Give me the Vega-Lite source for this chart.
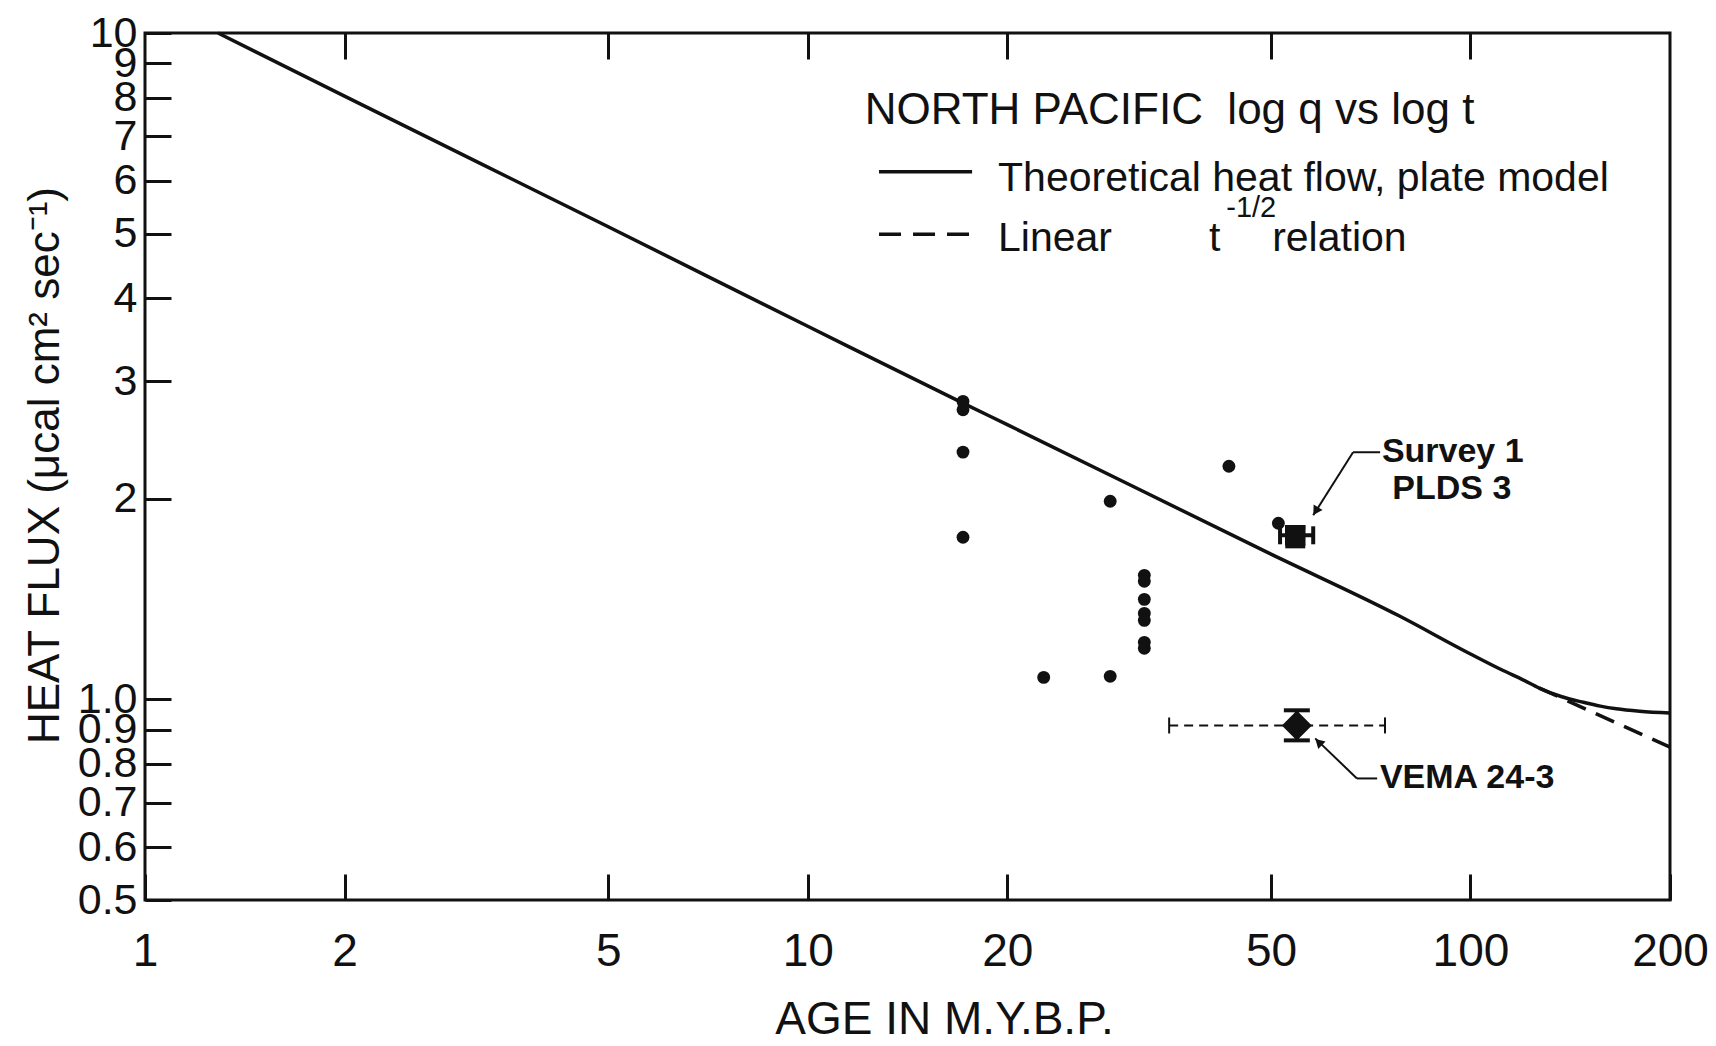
{
  "$schema": "https://vega.github.io/schema/vega-lite/v6.json",
  "width": 1525,
  "height": 867,
  "autosize": {"type": "none"},
  "padding": {"left": 145, "top": 33, "right": 46, "bottom": 146},
  "background": "#ffffff",
  "config": {
    "view": {"stroke": "#111111", "strokeWidth": 3},
    "font": "Liberation Sans",
    "axis": {"grid": false, "domain": false, "tickColor": "#111111", "tickWidth": 3, "labelColor": "#111111", "titleColor": "#111111", "labelFont": "Liberation Sans", "titleFont": "Liberation Sans"}
  },
  "datasets": {
    "plate": [
      {"t": 1.289, "q": 10.0}, {"t": 2, "q": 8.04}, {"t": 5, "q": 5.12}, {"t": 10, "q": 3.63},
      {"t": 17.15, "q": 2.783}, {"t": 20, "q": 2.584}, {"t": 50, "q": 1.652}, {"t": 78, "q": 1.335},
      {"t": 100, "q": 1.17}, {"t": 112, "q": 1.105}, {"t": 120, "q": 1.07}, {"t": 127, "q": 1.04},
      {"t": 137, "q": 1.01}, {"t": 148, "q": 0.99}, {"t": 157, "q": 0.977}, {"t": 166, "q": 0.968},
      {"t": 180, "q": 0.96}, {"t": 200, "q": 0.954}
    ],
    "linear": [
      {"t": 127, "q": 1.04}, {"t": 200, "q": 0.848}
    ],
    "obs": [
      {"t": 17.15, "q": 2.80}, {"t": 17.15, "q": 2.72}, {"t": 17.15, "q": 2.35}, {"t": 17.15, "q": 1.751},
      {"t": 28.6, "q": 1.983}, {"t": 32.2, "q": 1.535}, {"t": 32.2, "q": 1.504}, {"t": 32.2, "q": 1.413},
      {"t": 32.2, "q": 1.346}, {"t": 32.2, "q": 1.314}, {"t": 32.2, "q": 1.218}, {"t": 32.2, "q": 1.193},
      {"t": 22.7, "q": 1.079}, {"t": 28.6, "q": 1.083}, {"t": 43.2, "q": 2.238}, {"t": 51.3, "q": 1.838}
    ],
    "sites": [
      {"site": "Survey 1 PLDS 3", "t": 54.4, "q": 1.763},
      {"site": "VEMA 24-3", "t": 54.7, "q": 0.914}
    ],
    "segs": [
      {"kind": "key", "t": 12.81, "q": 6.19, "t2": 17.70, "q2": 6.19},
      {"kind": "keydash", "t": 12.81, "q": 4.99, "t2": 17.70, "q2": 4.99},
      {"kind": "bar", "t": 51.6, "q": 1.763, "t2": 57.9, "q2": 1.763},
      {"kind": "bar", "t": 54.4, "q": 1.697, "t2": 54.4, "q2": 1.813},
      {"kind": "bar", "t": 54.7, "q": 0.868, "t2": 54.7, "q2": 0.963},
      {"kind": "xerr", "t": 35.1, "q": 0.914, "t2": 74.3, "q2": 0.914},
      {"kind": "leader", "t": 66.5, "q": 2.349, "t2": 73.05, "q2": 2.349},
      {"kind": "leader", "t": 66.5, "q": 2.349, "t2": 57.9, "q2": 1.889},
      {"kind": "leader", "t": 67.4, "q": 0.761, "t2": 58.3, "q2": 0.874},
      {"kind": "leader", "t": 67.4, "q": 0.761, "t2": 72.3, "q2": 0.761}
    ],
    "caps": [
      {"kind": "hcap", "t": 54.4, "q": 1.813}, {"kind": "hcap", "t": 54.4, "q": 1.697},
      {"kind": "hcapv", "t": 54.7, "q": 0.963}, {"kind": "hcapv", "t": 54.7, "q": 0.868},
      {"kind": "vcap", "t": 51.6, "q": 1.763}, {"kind": "vcap", "t": 57.9, "q": 1.763},
      {"kind": "vcapd", "t": 35.1, "q": 0.914}, {"kind": "vcapd", "t": 74.3, "q": 0.914}
    ],
    "arrows": [
      {"name": "survey", "t": 58.4, "q": 1.917},
      {"name": "vema", "t": 59.0, "q": 0.863}
    ],
    "labels": [
      {"kind": "title", "label": "NORTH PACIFIC\u00a0 log q vs log t", "t": 12.19, "q": 7.31},
      {"kind": "key", "label": "Theoretical heat flow, plate model", "t": 19.37, "q": 5.80},
      {"kind": "key", "label": "Linear", "t": 19.37, "q": 4.713},
      {"kind": "key", "label": "t", "t": 40.3, "q": 4.713},
      {"kind": "key", "label": "relation", "t": 50.2, "q": 4.713},
      {"kind": "sup", "label": "-1/2", "t": 42.8, "q": 5.30},
      {"kind": "annot", "label": "Survey 1", "t": 73.5, "q": 2.349},
      {"kind": "annot", "label": "PLDS 3", "t": 76.2, "q": 2.067},
      {"kind": "annot", "label": "VEMA 24-3", "t": 73.0, "q": 0.761}
    ]
  },
  "encoding": {
    "x": {"field": "t", "type": "quantitative", "scale": {"type": "log", "domain": [1, 200], "nice": false, "zero": false}, "axis": null},
    "y": {
      "field": "q", "type": "quantitative",
      "scale": {"type": "log", "domain": [0.5, 10], "nice": false, "zero": false},
      "axis": {
        "orient": "left",
        "values": [0.5, 0.6, 0.7, 0.8, 0.9, 1, 2, 3, 4, 5, 6, 7, 8, 9, 10],
        "labelExpr": "datum.value < 1.05 ? format(datum.value, '.1f') : format(datum.value, 'd')",
        "tickSize": -26,
        "labelPadding": 34,
        "labelFontSize": 43,
        "labelAlign": "right",
        "labelBaseline": "middle",
        "labelOverlap": false,
        "labelFlush": false,
        "title": "HEAT FLUX (\u03bccal cm\u00b2 sec\u207b\u00b9)",
        "titleFontSize": 44,
        "titleFontWeight": "normal",
        "titleAngle": 270,
        "titleX": -87,
        "titleY": 432,
        "titleAlign": "center",
        "titleBaseline": "alphabetic"
      }
    }
  },
  "layer": [
    {
      "data": {"name": "plate"},
      "mark": {"type": "line", "color": "#111111", "strokeWidth": 3.5, "interpolate": "monotone"},
      "encoding": {
        "x": {
          "field": "t", "type": "quantitative",
          "scale": {"type": "log", "domain": [1, 200], "nice": false, "zero": false},
          "axis": {
            "orient": "bottom",
            "values": [1, 2, 5, 10, 20, 50, 100, 200],
            "format": "d",
            "tickSize": -26,
            "labelPadding": 91,
            "labelFontSize": 46,
            "labelBaseline": "alphabetic",
            "labelFlush": false,
            "labelOverlap": false,
            "title": "AGE IN M.Y.B.P.",
            "titleFontSize": 46,
            "titleFontWeight": "normal",
            "titleX": 799,
            "titleY": 133,
            "titleAlign": "center",
            "titleBaseline": "alphabetic"
          }
        }
      }
    },
    {
      "data": {"name": "linear"},
      "mark": {"type": "line", "color": "#111111", "strokeWidth": 3.5, "strokeDash": [20, 11]},
      "encoding": {
        "x": {
          "field": "t", "type": "quantitative",
          "scale": {"type": "log", "domain": [1, 200], "nice": false, "zero": false},
          "axis": {
            "orient": "top",
            "values": [2, 5, 10, 20, 50, 100],
            "tickSize": -26,
            "labels": false,
            "title": null
          }
        }
      }
    },
    {
      "data": {"name": "obs"},
      "mark": {"type": "point", "filled": true, "size": 165, "color": "#111111", "opacity": 1}
    },
    {
      "data": {"name": "sites"},
      "transform": [{"filter": "datum.site == 'Survey 1 PLDS 3'"}],
      "mark": {"type": "point", "shape": "square", "filled": true, "size": 420, "color": "#111111", "opacity": 1}
    },
    {
      "data": {"name": "sites"},
      "transform": [{"filter": "datum.site == 'VEMA 24-3'"}],
      "mark": {"type": "point", "shape": "diamond", "filled": true, "size": 900, "color": "#111111", "opacity": 1}
    },
    {
      "data": {"name": "segs"},
      "transform": [{"filter": "datum.kind == 'bar'"}],
      "mark": {"type": "rule", "color": "#111111", "strokeWidth": 4},
      "encoding": {"x2": {"field": "t2"}, "y2": {"field": "q2"}}
    },
    {
      "data": {"name": "segs"},
      "transform": [{"filter": "datum.kind == 'leader'"}],
      "mark": {"type": "rule", "color": "#111111", "strokeWidth": 2},
      "encoding": {"x2": {"field": "t2"}, "y2": {"field": "q2"}}
    },
    {
      "data": {"name": "segs"},
      "transform": [{"filter": "datum.kind == 'key'"}],
      "mark": {"type": "rule", "color": "#111111", "strokeWidth": 3.5},
      "encoding": {"x2": {"field": "t2"}, "y2": {"field": "q2"}}
    },
    {
      "data": {"name": "segs"},
      "transform": [{"filter": "datum.kind == 'keydash'"}],
      "mark": {"type": "rule", "color": "#111111", "strokeWidth": 3.5, "strokeDash": [22, 12]},
      "encoding": {"x2": {"field": "t2"}, "y2": {"field": "q2"}}
    },
    {
      "data": {"name": "segs"},
      "transform": [{"filter": "datum.kind == 'xerr'"}],
      "mark": {"type": "rule", "color": "#111111", "strokeWidth": 2, "strokeDash": [9, 6]},
      "encoding": {"x2": {"field": "t2"}, "y2": {"field": "q2"}}
    },
    {
      "data": {"name": "caps"},
      "transform": [{"filter": "datum.kind == 'hcap'"}],
      "mark": {"type": "tick", "orient": "horizontal", "size": 20, "thickness": 4, "color": "#111111", "opacity": 1}
    },
    {
      "data": {"name": "caps"},
      "transform": [{"filter": "datum.kind == 'hcapv'"}],
      "mark": {"type": "tick", "orient": "horizontal", "size": 26, "thickness": 4, "color": "#111111", "opacity": 1}
    },
    {
      "data": {"name": "caps"},
      "transform": [{"filter": "datum.kind == 'vcap'"}],
      "mark": {"type": "tick", "orient": "vertical", "size": 18, "thickness": 4, "color": "#111111", "opacity": 1}
    },
    {
      "data": {"name": "caps"},
      "transform": [{"filter": "datum.kind == 'vcapd'"}],
      "mark": {"type": "tick", "orient": "vertical", "size": 16, "thickness": 2, "color": "#111111", "opacity": 1}
    },
    {
      "data": {"name": "arrows"},
      "transform": [{"filter": "datum.name == 'survey'"}],
      "mark": {"type": "point", "shape": "triangle-up", "filled": true, "size": 110, "angle": 212, "color": "#111111", "opacity": 1}
    },
    {
      "data": {"name": "arrows"},
      "transform": [{"filter": "datum.name == 'vema'"}],
      "mark": {"type": "point", "shape": "triangle-up", "filled": true, "size": 110, "angle": 314, "color": "#111111", "opacity": 1}
    },
    {
      "data": {"name": "labels"},
      "transform": [{"filter": "datum.kind == 'title'"}],
      "mark": {"type": "text", "align": "left", "baseline": "alphabetic", "fontSize": 44, "color": "#111111", "font": "Liberation Sans"},
      "encoding": {"text": {"field": "label"}}
    },
    {
      "data": {"name": "labels"},
      "transform": [{"filter": "datum.kind == 'key'"}],
      "mark": {"type": "text", "align": "left", "baseline": "alphabetic", "fontSize": 41, "color": "#111111", "font": "Liberation Sans"},
      "encoding": {"text": {"field": "label"}}
    },
    {
      "data": {"name": "labels"},
      "transform": [{"filter": "datum.kind == 'sup'"}],
      "mark": {"type": "text", "align": "left", "baseline": "alphabetic", "fontSize": 29, "color": "#111111", "font": "Liberation Sans"},
      "encoding": {"text": {"field": "label"}}
    },
    {
      "data": {"name": "labels"},
      "transform": [{"filter": "datum.kind == 'annot'"}],
      "mark": {"type": "text", "align": "left", "baseline": "middle", "fontSize": 34, "fontWeight": "bold", "color": "#111111", "font": "Liberation Sans"},
      "encoding": {"text": {"field": "label"}}
    }
  ],
  "resolve": {"axis": {"x": "independent"}}
}
